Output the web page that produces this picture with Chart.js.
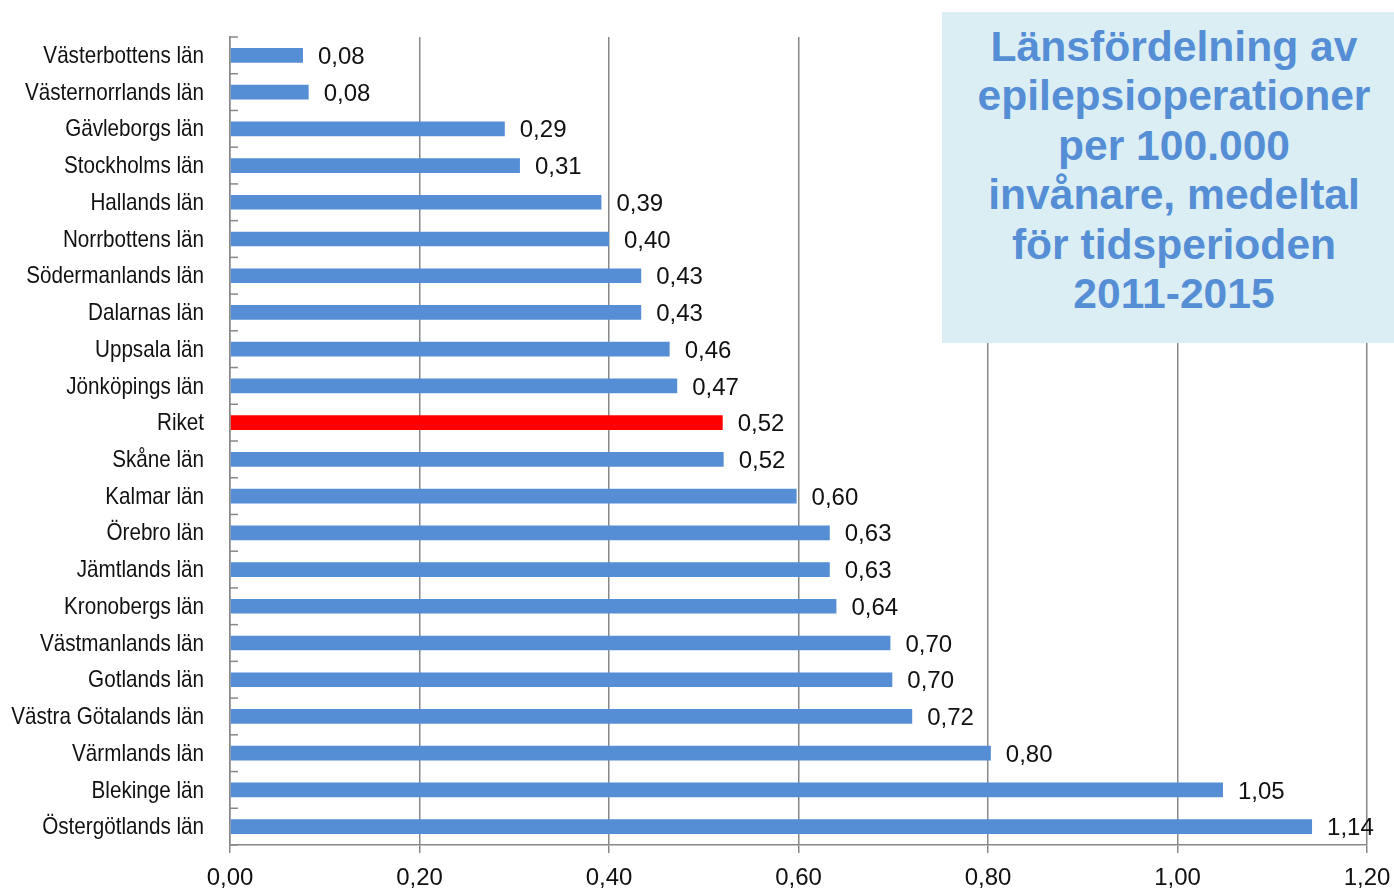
<!DOCTYPE html>
<html>
<head>
<meta charset="utf-8">
<script src="https://cdn.jsdelivr.net/npm/chart.js@4"></script>
<style>
  html, body { margin: 0; padding: 0; background: #fff; }
  #wrap { position: relative; width: 1394px; height: 894px; }
  #title-box {
    position: absolute; left: 942px; top: 12px; width: 452px; height: 331px;
    background: #dbeef4; box-sizing: border-box; padding: 10px 0 0 12px;
    color: #558ed5; font: bold 42.6px/49.4px "Liberation Sans", Arial, sans-serif;
    text-align: center;
  }
</style>
</head>
<body>
<div id="wrap">
  <canvas id="chart" width="1394" height="894"></canvas>
  <div id="title-box">Länsfördelning av<br>epilepsioperationer<br>per 100.000<br>invånare, medeltal<br>för tidsperioden<br>2011-2015</div>
</div>
<script>
// Data (top to bottom)
var lan = ['Västerbottens län', 'Västernorrlands län', 'Gävleborgs län', 'Stockholms län',
  'Hallands län', 'Norrbottens län', 'Södermanlands län', 'Dalarnas län', 'Uppsala län',
  'Jönköpings län', 'Riket', 'Skåne län', 'Kalmar län', 'Örebro län', 'Jämtlands län',
  'Kronobergs län', 'Västmanlands län', 'Gotlands län', 'Västra Götalands län',
  'Värmlands län', 'Blekinge län', 'Östergötlands län'];
var perHundredK = [0.077, 0.083, 0.29, 0.306, 0.392, 0.40, 0.434, 0.434, 0.464, 0.472, 0.52,
  0.521, 0.598, 0.633, 0.633, 0.64, 0.697, 0.699, 0.72, 0.803, 1.048, 1.142];
var xTicks = [0, 0.2, 0.4, 0.6, 0.8, 1.0, 1.2];

var BLUE = '#558ed5';
var RED = '#ff0000';
var GRID = '#888888';
var FONT = "'Liberation Sans', Arial, sans-serif";

var barColors = lan.map(function (l) { return l === 'Riket' ? RED : BLUE; });

function fmt(v) { return v.toFixed(2).replace('.', ','); }

// value labels at the end of each bar
var valueLabels = {
  id: 'valueLabels',
  afterDatasetsDraw: function (chart) {
    var ctx = chart.ctx;
    var meta = chart.getDatasetMeta(0);
    ctx.save();
    ctx.font = '24px ' + FONT;
    ctx.fillStyle = '#111';
    ctx.textBaseline = 'middle';
    ctx.textAlign = 'left';
    meta.data.forEach(function (bar, i) {
      ctx.fillText(fmt(perHundredK[i]), bar.x + 15, bar.y + 2);
    });
    ctx.restore();
  }
};

// category names (condensed look) + small tick marks between categories
var categoryAxis = {
  id: 'categoryAxis',
  afterDraw: function (chart) {
    var ctx = chart.ctx;
    var y = chart.scales.y;
    var left = chart.chartArea.left;
    ctx.save();
    ctx.strokeStyle = GRID;
    ctx.lineWidth = 1.5;
    for (var i = 0; i <= lan.length; i++) {
      var py = y.getPixelForValue(i - 0.5);
      ctx.beginPath();
      ctx.moveTo(left, py);
      ctx.lineTo(left + 8, py);
      ctx.stroke();
    }
    ctx.font = '24px ' + FONT;
    ctx.fillStyle = '#111';
    ctx.textAlign = 'right';
    ctx.textBaseline = 'middle';
    lan.forEach(function (name, i) {
      ctx.save();
      ctx.translate(left - 26, y.getPixelForValue(i) + 1);
      ctx.scale(0.86, 1);
      ctx.fillText(name, 0, 0);
      ctx.restore();
    });
    ctx.restore();
  }
};

new Chart(document.getElementById('chart'), {
  type: 'bar',
  data: {
    labels: lan,
    datasets: [{
      data: perHundredK,
      backgroundColor: barColors,
      borderWidth: 0,
      barPercentage: 0.4,
      categoryPercentage: 1
    }]
  },
  options: {
    indexAxis: 'y',
    responsive: false,
    animation: false,
    layout: { padding: { top: 37, right: 0, left: 0, bottom: 0 } },
    plugins: {
      legend: { display: false },
      tooltip: { enabled: false }
    },
    scales: {
      x: {
        min: xTicks[0],
        max: xTicks[xTicks.length - 1],
        afterBuildTicks: function (scale) {
          scale.ticks = xTicks.map(function (v) { return { value: v }; });
        },
        afterFit: function (scale) {
          scale.height = 49;
          scale.paddingLeft = 0;
          scale.paddingRight = 27;
        },
        grid: { color: GRID, lineWidth: 1.5, tickLength: 8 },
        border: { color: GRID, width: 1.5 },
        ticks: {
          padding: 11,
          color: '#111',
          font: { family: FONT, size: 24 },
          callback: function (v) { return fmt(v); }
        }
      },
      y: {
        afterFit: function (scale) { scale.width = 230; },
        grid: { display: false },
        border: { color: GRID, width: 1.5 },
        ticks: { display: false }
      }
    }
  },
  plugins: [valueLabels, categoryAxis]
});
</script>
</body>
</html>
